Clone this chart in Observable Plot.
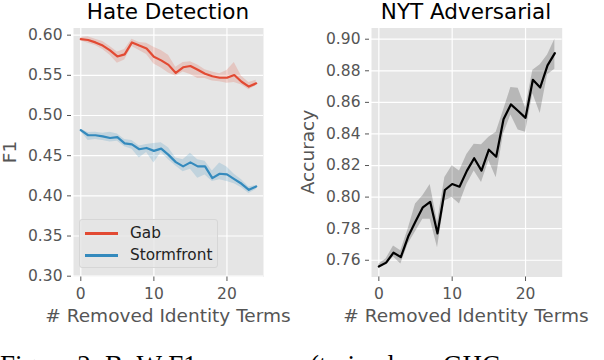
<!DOCTYPE html>
<html>
<head>
<meta charset="utf-8">
<script src="https://cdn.jsdelivr.net/npm/d3@7"></script>
<script src="https://cdn.jsdelivr.net/npm/@observablehq/plot@0.6"></script>
<style>
  html, body { margin: 0; padding: 0; background: #fff; }
  #wrap { position: relative; width: 604px; height: 360px; overflow: hidden; background: #fff; }
  #wrap svg { position: absolute; top: 0; }
  .title { position: absolute; font-family: "DejaVu Sans"; font-size: 21.5px; line-height: 21px; color: #000; text-align: center; white-space: nowrap; }
  .xlab { position: absolute; font-family: "DejaVu Sans"; font-size: 18.5px; line-height: 18.5px; color: #555; text-align: center; white-space: nowrap; }
  .ylab { position: absolute; font-family: "DejaVu Sans"; font-size: 18.5px; line-height: 18.5px; color: #555; white-space: nowrap; transform: translate(-50%, -50%) rotate(-90deg); }
  .cap { position: absolute; top: 352px; font-family: "Liberation Serif", "Times New Roman", serif; font-size: 27px; line-height: 27px; color: #000; white-space: nowrap; }
  #legend { position: absolute; left: 79px; top: 219px; width: 139px; height: 49px; border: 1px solid #d6d6d6; border-radius: 3px; background: rgba(229,229,229,0.8); box-sizing: border-box; }
  .sw { position: absolute; left: 5px; width: 33px; height: 2.5px; }
  .lt { position: absolute; left: 50px; font-family: "DejaVu Sans"; font-size: 15.3px; line-height: 16px; color: #222; white-space: nowrap; }
</style>
</head>
<body>
<div id="wrap"></div>
<script>
// ---- data ----
const removedTerms = [0,1,2,3,4,5,6,7,8,9,10,11,12,13,14,15,16,17,18,19,20,21,22,23,24];

const gabMean = [0.595,0.594,0.591,0.587,0.581,0.5735,0.576,0.591,0.587,0.5835,0.573,0.5686,0.563,0.553,0.560,0.5616,0.557,0.552,0.5488,0.547,0.547,0.5504,0.542,0.536,0.540];
const gabLow  = [0.593,0.590,0.587,0.582,0.575,0.565,0.569,0.586,0.581,0.576,0.564,0.559,0.553,0.549,0.554,0.551,0.546,0.546,0.543,0.542,0.540,0.541,0.538,0.532,0.537];
const gabHigh = [0.597,0.598,0.595,0.592,0.586,0.579,0.582,0.595,0.591,0.590,0.585,0.581,0.575,0.560,0.566,0.567,0.563,0.557,0.554,0.552,0.556,0.566,0.549,0.541,0.544];

const sfMean = [0.4817,0.4754,0.4754,0.474,0.472,0.473,0.4654,0.464,0.458,0.4596,0.456,0.4588,0.451,0.442,0.4367,0.4417,0.4367,0.4367,0.422,0.4275,0.4267,0.4208,0.415,0.4075,0.4117];
const sfLow  = [0.480,0.469,0.470,0.469,0.467,0.468,0.461,0.458,0.447,0.454,0.441,0.454,0.445,0.437,0.430,0.433,0.422,0.426,0.418,0.420,0.418,0.415,0.410,0.403,0.408];
const sfHigh = [0.483,0.4787,0.479,0.478,0.479,0.477,0.470,0.469,0.462,0.464,0.465,0.466,0.460,0.447,0.445,0.453,0.445,0.443,0.431,0.441,0.436,0.427,0.420,0.411,0.413];

const nytMean = [0.756,0.7585,0.7648,0.762,0.775,0.7845,0.7935,0.797,0.777,0.8045,0.8083,0.8066,0.8166,0.8246,0.8168,0.830,0.8256,0.8493,0.8587,0.8545,0.8502,0.8743,0.8694,0.8834,0.8912];
const nytLow  = [0.7555,0.757,0.762,0.7577,0.7703,0.778,0.786,0.786,0.768,0.7977,0.7998,0.7956,0.808,0.8166,0.8092,0.823,0.8123,0.840,0.852,0.8425,0.841,0.8655,0.853,0.8775,0.881];
const nytHigh = [0.7575,0.761,0.769,0.766,0.7798,0.7956,0.8008,0.808,0.784,0.8124,0.8198,0.8166,0.827,0.8335,0.8332,0.8379,0.841,0.855,0.8694,0.869,0.8566,0.8804,0.8838,0.890,0.900];

const xTicks = [0, 10, 20];
const leftYTicks = [0.30, 0.35, 0.40, 0.45, 0.50, 0.55, 0.60];
const rightYTicks = [0.76, 0.78, 0.80, 0.82, 0.84, 0.86, 0.88, 0.90];
const seriesNames = ["Gab", "Stormfront"];
const seriesColors = ["#E24A33", "#348ABD"];

// ---- build tables ----
const mk = (m, lo, hi) => removedTerms.map((x, i) => ({x, mean: m[i], low: lo[i], high: hi[i]}));
const gab = mk(gabMean, gabLow, gabHigh);
const sf = mk(sfMean, sfLow, sfHigh);
const nyt = mk(nytMean, nytLow, nytHigh);

const baseStyle = {fontFamily: "DejaVu Sans", fontSize: "15.5px", color: "#555", background: "transparent", overflow: "visible"};
const gridOpts = {stroke: "#ffffff", strokeOpacity: 1, strokeWidth: 1.2};

const leftPlot = Plot.plot({
  width: 300, height: 300,
  marginLeft: 73, marginRight: 37, marginTop: 27.5, marginBottom: 23.5,
  x: {domain: [-1, 25]},
  y: {domain: [0.299, 0.6089]},
  style: baseStyle,
  marks: [
    Plot.frame({fill: "#E5E5E5", stroke: "none"}),
    Plot.gridX(xTicks, gridOpts),
    Plot.gridY(leftYTicks, gridOpts),
    Plot.areaY(gab, {x: "x", y1: "low", y2: "high", fill: seriesColors[0], fillOpacity: 0.2}),
    Plot.areaY(sf, {x: "x", y1: "low", y2: "high", fill: seriesColors[1], fillOpacity: 0.2}),
    Plot.lineY(gab, {x: "x", y: "mean", stroke: seriesColors[0], strokeWidth: 2.2}),
    Plot.lineY(sf, {x: "x", y: "mean", stroke: seriesColors[1], strokeWidth: 2.2}),
    Plot.axisX(xTicks, {tickSize: 4.5, tickPadding: 6, label: null}),
    Plot.axisY(leftYTicks, {tickFormat: d3.format(".2f"), tickSize: 4, tickPadding: 5, dx: -2, label: null})
  ]
});

const rightPlot = Plot.plot({
  width: 304, height: 300,
  marginLeft: 71, marginRight: 42.3, marginTop: 27.5, marginBottom: 23.5,
  x: {domain: [-1, 25]},
  y: {domain: [0.7494, 0.9071]},
  style: baseStyle,
  marks: [
    Plot.frame({fill: "#E5E5E5", stroke: "none"}),
    Plot.gridX(xTicks, gridOpts),
    Plot.gridY(rightYTicks, gridOpts),
    Plot.areaY(nyt, {x: "x", y1: "low", y2: "high", fill: "#000", fillOpacity: 0.2}),
    Plot.lineY(nyt, {x: "x", y: "mean", stroke: "#000", strokeWidth: 2.2}),
    Plot.axisX(xTicks, {tickSize: 4.5, tickPadding: 6, label: null}),
    Plot.axisY(rightYTicks, {tickFormat: d3.format(".2f"), tickSize: 4, tickPadding: 5, dx: -2, label: null})
  ]
});

const wrap = document.getElementById("wrap");
leftPlot.style.left = "0px";
rightPlot.style.left = "300px";
wrap.appendChild(leftPlot);
wrap.appendChild(rightPlot);

function addDiv(cls, text, css) {
  const d = document.createElement("div");
  d.className = cls;
  d.textContent = text;
  Object.assign(d.style, css);
  wrap.appendChild(d);
  return d;
}

addDiv("title", "Hate Detection", {left: "68px", width: "200px", top: "0.5px"});
addDiv("title", "NYT Adversarial", {left: "366px", width: "200px", top: "0.5px"});
addDiv("xlab", "# Removed Identity Terms", {left: "18px", width: "300px", top: "307px"});
addDiv("xlab", "# Removed Identity Terms", {left: "316px", width: "300px", top: "307px"});
addDiv("ylab", "F1", {left: "10px", top: "152px"});
addDiv("ylab", "Accuracy", {left: "308px", top: "152px"});

// legend
const lg = document.createElement("div");
lg.id = "legend";
wrap.appendChild(lg);
seriesNames.forEach((name, i) => {
  const y = i === 0 ? 13.3 : 35.3;
  const sw = document.createElement("div");
  sw.className = "sw";
  sw.style.top = (y - 1.25) + "px";
  sw.style.background = seriesColors[i];
  lg.appendChild(sw);
  const t = document.createElement("div");
  t.className = "lt";
  t.textContent = name;
  t.style.top = (y - 8.5) + "px";
  lg.appendChild(t);
});

// caption (cropped at the bottom of the picture, as in the reference)
addDiv("cap", "Figure 2:", {left: "0px"});
addDiv("cap", "BoW F1 scores", {left: "105px"});
addDiv("cap", "(trained on", {left: "310px"});
addDiv("cap", "GHC", {left: "443px"});
addDiv("cap", "and", {left: "576px"});
</script>
</body>
</html>
